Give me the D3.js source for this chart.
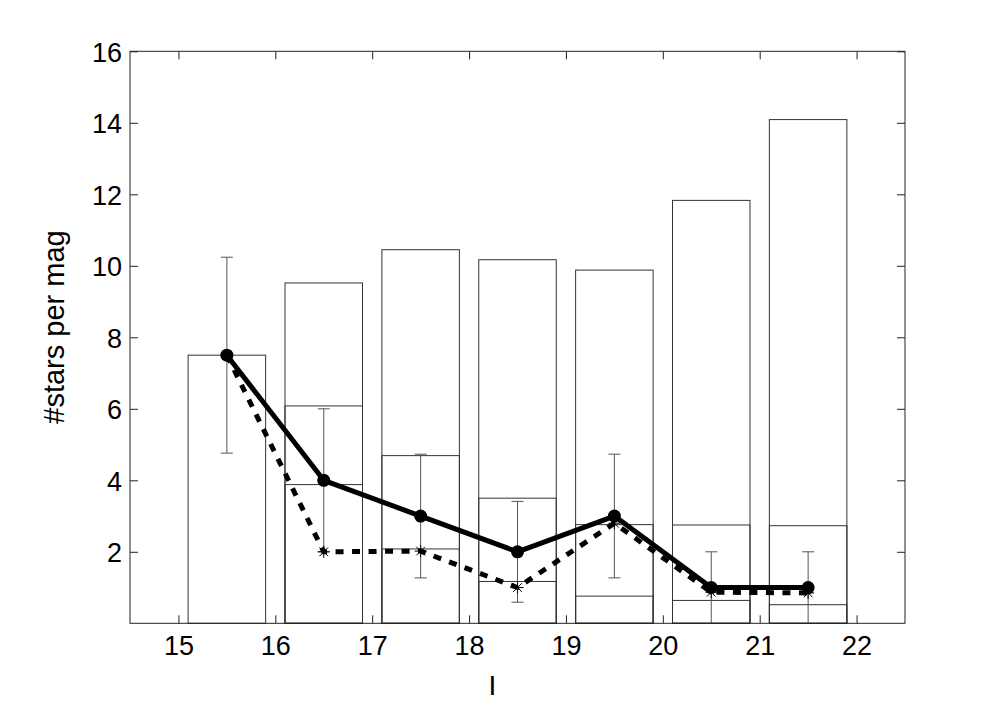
<!DOCTYPE html>
<html>
<head>
<meta charset="utf-8">
<script src="https://cdn.jsdelivr.net/npm/d3@7"></script>
<style>
  html, body { margin: 0; padding: 0; background: #fff; }
  svg { display: block; }
  text { font-family: "Liberation Sans", Arial, Helvetica, sans-serif; fill: #000; }
</style>
</head>
<body>
<svg id="chart" width="1000" height="702"></svg>
<script>
// ---- data ----
const bins = [15.5, 16.5, 17.5, 18.5, 19.5, 20.5, 21.5];
const histTotal = [7.5, 9.52, 10.45, 10.17, 9.88, 11.83, 14.09];
const histMid   = [null, 6.08, 4.69, 3.5, 2.76, 2.75, 2.73];
const histLow   = [null, 3.88, 2.08, 1.17, 0.76, 0.64, 0.52];
const solidVals  = [7.5, 4, 3, 2, 3, 1, 1];
const dashedVals = [7.5, 2.0, 2.02, 1.0, 2.8, 0.87, 0.85];
const errLow  = [4.76, 2, 1.27, 0.59, 1.27, 0, 0];
const errHigh = [10.24, 6, 4.73, 3.41, 4.73, 2, 2];
const xTicks = [15, 16, 17, 18, 19, 20, 21, 22];
const yTicks = [2, 4, 6, 8, 10, 12, 14, 16];
const binHalfWidth = 0.4;
const xLabel = "I";
const yLabel = "#stars per mag";

// ---- layout ----
const svg = d3.select("#chart");
const L = 130, R = 905, T = 51.3, B = 623.3;
const x = d3.scaleLinear().domain([14.5, 22.5]).range([L, R]);
const y = d3.scaleLinear().domain([0, 16]).range([B, T]);

// histogram boxes
const boxG = svg.append("g").attr("fill", "none").attr("stroke", "#333").attr("stroke-width", 1);
[histTotal, histMid, histLow].forEach(series => {
  boxG.selectAll(null)
    .data(bins.map((b, i) => ({b, v: series[i]})).filter(d => d.v != null))
    .enter().append("rect")
    .attr("x", d => x(d.b - binHalfWidth))
    .attr("width", d => x(d.b + binHalfWidth) - x(d.b - binHalfWidth))
    .attr("y", d => y(d.v))
    .attr("height", d => y(0) - y(d.v));
});

// error bars
const errG = svg.append("g").attr("stroke", "#555").attr("stroke-width", 1);
bins.forEach((b, i) => {
  errG.append("line").attr("x1", x(b)).attr("x2", x(b)).attr("y1", y(errLow[i])).attr("y2", y(errHigh[i]));
  [errLow[i], errHigh[i]].forEach(v => {
    if (v > 0) errG.append("line").attr("x1", x(b) - 6).attr("x2", x(b) + 6).attr("y1", y(v)).attr("y2", y(v));
  });
});

// frame
svg.append("rect").attr("x", L).attr("y", T).attr("width", R - L).attr("height", B - T)
  .attr("fill", "none").attr("stroke", "#222").attr("stroke-width", 1);

// axes with inward ticks
const tickLen = 8;
const axB = d3.axisBottom(x).tickValues(xTicks).tickSize(-tickLen).tickPadding(14).tickFormat(d3.format("d"));
const axT = d3.axisTop(x).tickValues(xTicks).tickSize(-tickLen).tickFormat("");
const axL = d3.axisLeft(y).tickValues(yTicks).tickSize(-tickLen).tickPadding(8).tickFormat(d3.format("d"));
const axR = d3.axisRight(y).tickValues(yTicks).tickSize(-tickLen).tickFormat("");
function style(g) {
  g.select(".domain").remove();
  g.selectAll(".tick line").attr("stroke", "#222");
  g.selectAll(".tick text").style("font-size", "27px").style("font-family", "'Liberation Sans', Arial, sans-serif").attr("fill", "#000");
}
svg.append("g").attr("transform", `translate(0,${B})`).call(axB).call(style)
  .selectAll(".tick text").attr("dy", null).attr("y", 31.5);
svg.append("g").attr("transform", `translate(0,${T})`).call(axT).call(style);
svg.append("g").attr("transform", `translate(${L},0)`).call(axL).call(style)
  .selectAll(".tick text").attr("x", -8).attr("dy", "0.37em");
svg.append("g").attr("transform", `translate(${R},0)`).call(axR).call(style);

// lines
const lineGen = d3.line().x((d, i) => x(bins[i])).y(d => y(d));
svg.append("path").datum(dashedVals).attr("d", lineGen)
  .attr("fill", "none").attr("stroke", "#000").attr("stroke-width", 5)
  .attr("stroke-dasharray", "8,8.5");
svg.append("path").datum(solidVals).attr("d", lineGen)
  .attr("fill", "none").attr("stroke", "#000").attr("stroke-width", 5).attr("stroke-linejoin", "round");

// asterisk markers for dashed series
const s = 6;
svg.append("g").selectAll("path").data(dashedVals).enter().append("path")
  .attr("transform", (d, i) => `translate(${x(bins[i])},${y(d)})`)
  .attr("d", `M${-s},0L${s},0M0,${-s}L0,${s}M${-s*0.72},${-s*0.72}L${s*0.72},${s*0.72}M${-s*0.72},${s*0.72}L${s*0.72},${-s*0.72}`)
  .attr("stroke", "#000").attr("stroke-width", 1).attr("fill", "none");

// filled circles for solid series
svg.append("g").selectAll("circle").data(solidVals).enter().append("circle")
  .attr("cx", (d, i) => x(bins[i])).attr("cy", d => y(d)).attr("r", 6.5).attr("fill", "#000");

// axis labels
svg.append("text").attr("x", 492.5).attr("y", 695).attr("text-anchor", "middle")
  .style("font-size", "28px").text(xLabel);
svg.append("text").attr("transform", "translate(64,327) rotate(-90)").attr("text-anchor", "middle")
  .style("font-size", "29px").text(yLabel);
</script>
</body>
</html>
